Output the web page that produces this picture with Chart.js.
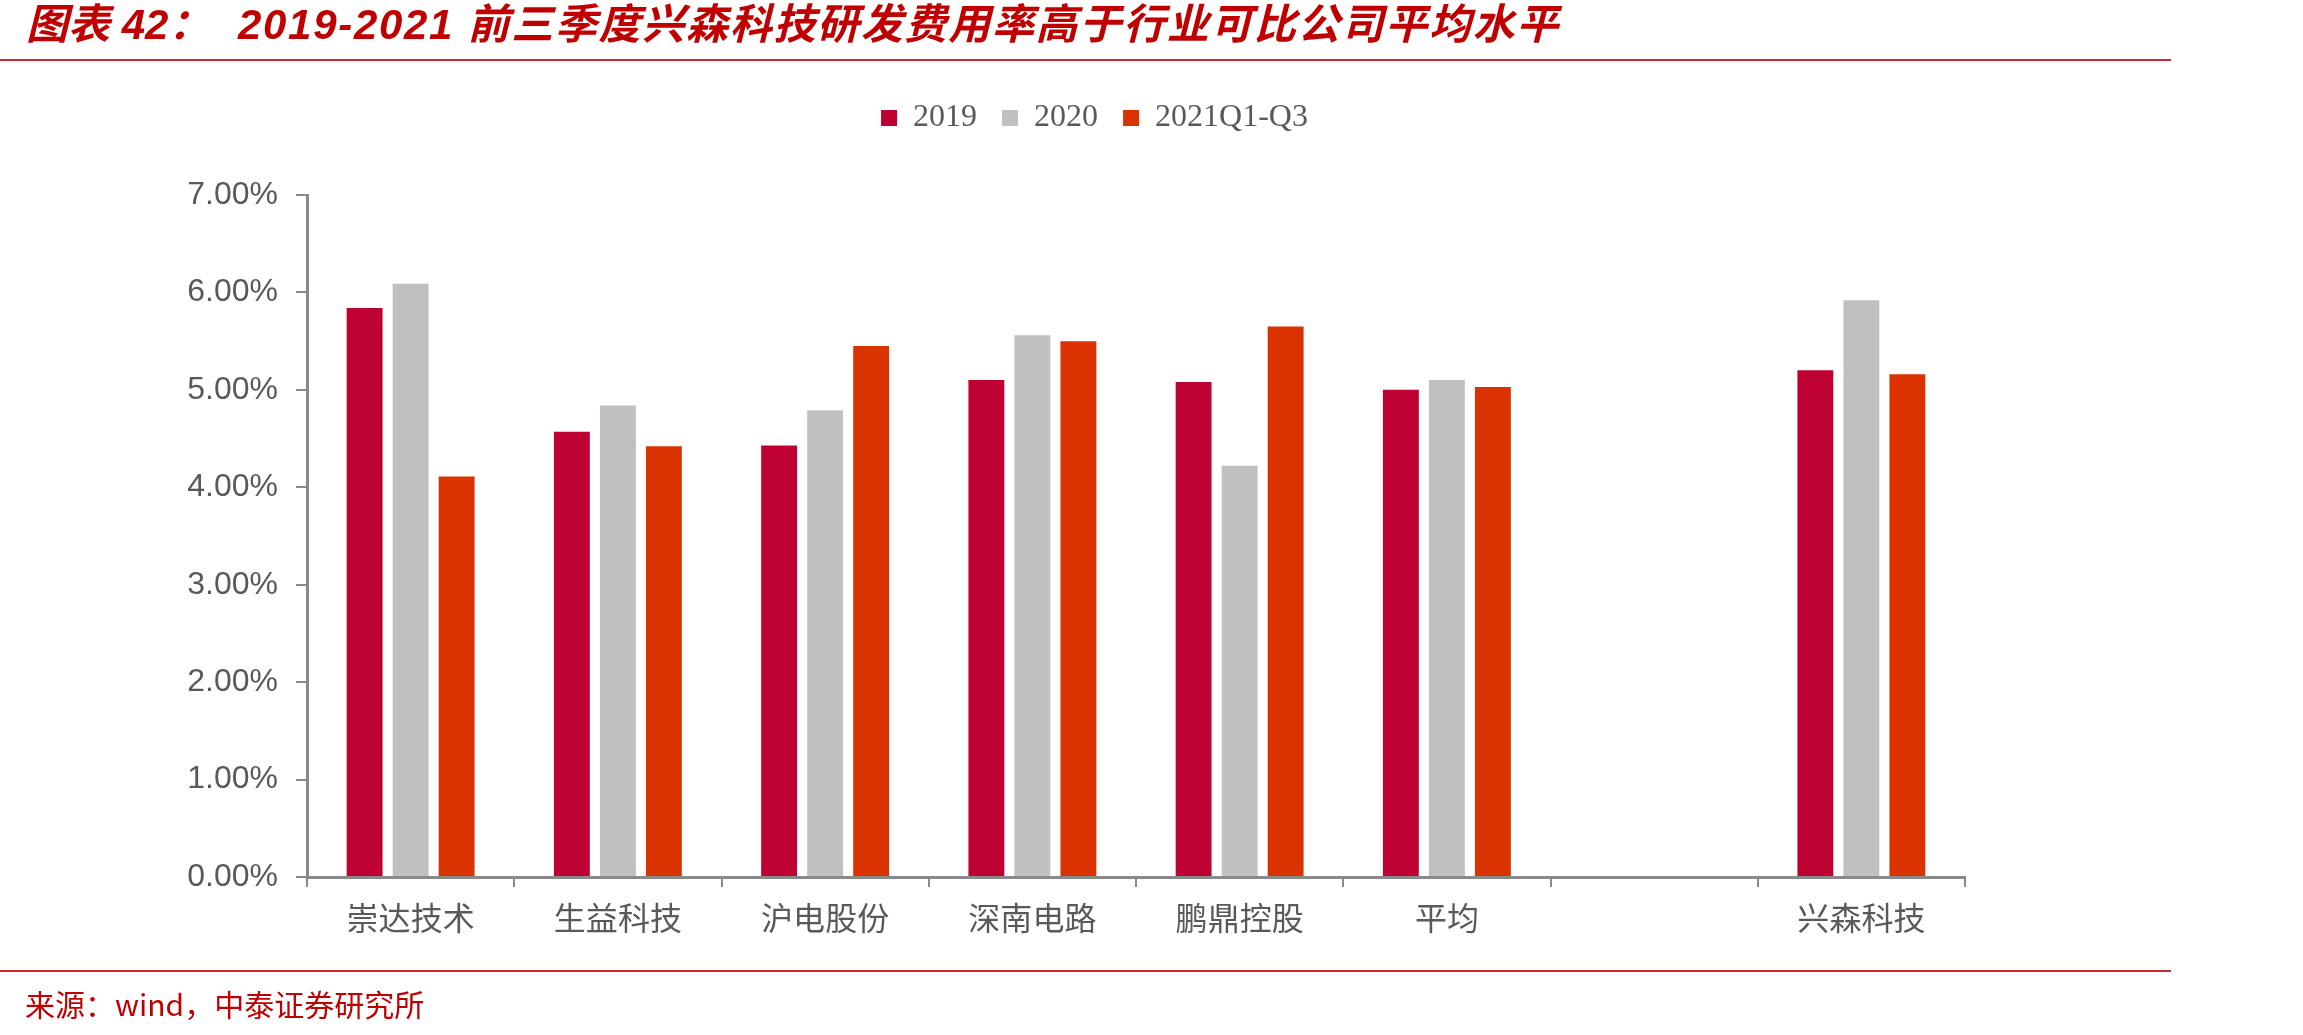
<!DOCTYPE html>
<html>
<head>
<meta charset="utf-8">
<script src="https://cdn.jsdelivr.net/npm/chart.js@4.4.0/dist/chart.umd.min.js"></script>
<style>
  html, body { margin: 0; padding: 0; background: #fff; }
  #wrap { position: relative; width: 2303px; height: 1035px; overflow: hidden; }
  #chart { position: absolute; left: 0; top: 0; }
  .title { position: absolute; top: 0; height: 50px; line-height: 50px; font-size: 42px; font-weight: bold; font-style: italic; color: #C00000; white-space: nowrap; font-family: "Liberation Sans", "Noto Sans CJK SC", sans-serif; }
  .rule { position: absolute; left: 0; width: 2171px; height: 2px; background: #C8282E; }
  #source { position: absolute; left: 25px; top: 983px; line-height: 40px; font-size: 30px; color: #C00000; font-family: "Noto Sans CJK SC", sans-serif; white-space: nowrap; }
</style>
</head>
<body>
<div id="wrap">
  <canvas id="chart" width="2303" height="1035"></canvas>
  <div class="title" style="left:26px">图表 42：</div>
  <div class="title" style="left:238px;letter-spacing:1.7px">2019-2021 前三季度兴森科技研发费用率高于行业可比公司平均水平</div>
  <div class="rule" style="top:59px"></div>
  <div class="rule" style="top:970px"></div>
  <div id="source">来源：wind，中泰证券研究所</div>
</div>
<script>
// data (%)
const categories = ['崇达技术', '生益科技', '沪电股份', '深南电路', '鹏鼎控股', '平均', '', '兴森科技'];
const seriesNames = ['2019', '2020', '2021Q1-Q3'];
const rd2019 = [5.84, 4.57, 4.43, 5.10, 5.08, 5.00, null, 5.20];
const rd2020 = [6.09, 4.84, 4.79, 5.56, 4.22, 5.10, null, 5.92];
const rd2021 = [4.11, 4.42, 5.45, 5.50, 5.65, 5.03, null, 5.16];
const yTicks = [0, 1, 2, 3, 4, 5, 6, 7];

const axisGray = '#898989';
const textGray = '#595959';

// legend sits well above the plot and a bit right of the page centre
const legendTweak = {
  id: 'legendTweak',
  beforeLayout(chart) {
    const lg = chart.legend;
    if (lg && !lg._gapDone) {
      const fit = lg.fit.bind(lg);
      lg.fit = function () { fit(); this.height += 51; };
      lg._gapDone = true;
    }
  },
  afterLayout(chart) {
    chart.legend.left += 57;
  }
};

const ctx = document.getElementById('chart').getContext('2d');
const chart = new Chart(ctx, {
  type: 'bar',
  data: {
    labels: categories,
    datasets: [
      { label: seriesNames[0], data: rd2019, backgroundColor: '#BE0032' },
      { label: seriesNames[1], data: rd2020, backgroundColor: '#C0C0C0' },
      { label: seriesNames[2], data: rd2021, backgroundColor: '#DA3300' }
    ]
  },
  options: {
    responsive: false,
    animation: false,
    devicePixelRatio: 1,
    layout: { padding: { top: 77, left: 167, right: 338, bottom: 0 } },
    datasets: {
      bar: { categoryPercentage: 0.666, barPercentage: 0.78, borderWidth: 0 }
    },
    plugins: {
      tooltip: { enabled: false },
      legend: {
        position: 'top',
        labels: {
          boxWidth: 16,
          boxHeight: 16,
          padding: 25,
          color: textGray,
          font: { family: '"Liberation Serif", "Times New Roman", serif', size: 32 }
        }
      }
    },
    scales: {
      x: {
        grid: { drawOnChartArea: false, drawTicks: true, tickLength: 10, color: axisGray, lineWidth: 2 },
        border: { color: axisGray, width: 3 },
        ticks: {
          color: textGray,
          padding: 12,
          maxRotation: 0,
          autoSkip: false,
          font: { family: '"Noto Sans CJK SC", sans-serif', size: 32 }
        },
        afterFit(scale) { scale.height = 158; }
      },
      y: {
        min: 0,
        max: 7,
        grid: { drawOnChartArea: false, drawTicks: true, tickLength: 11, color: axisGray, lineWidth: 2 },
        border: { color: axisGray, width: 3 },
        afterBuildTicks(scale) { scale.ticks = yTicks.map(v => ({ value: v })); },
        ticks: {
          color: textGray,
          padding: 18,
          font: { family: '"Liberation Sans", Arial, sans-serif', size: 32 },
          callback: v => v.toFixed(2) + '%'
        },
        afterFit(scale) { scale.width = 140; }
      }
    }
  },
  plugins: [legendTweak]
});
</script>
</body>
</html>
